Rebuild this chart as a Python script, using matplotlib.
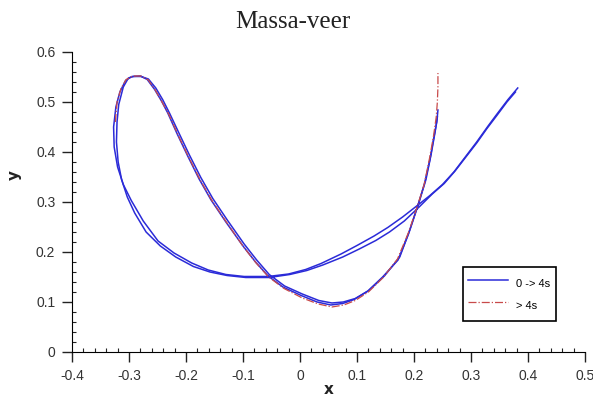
import numpy as np
import matplotlib.pyplot as plt
from matplotlib.ticker import MultipleLocator

# 0 -> 4s, first sweep (top right end -> loop -> peak -> valley -> right tip)
x_a = [0.382, 0.365, 0.345, 0.33, 0.31, 0.29, 0.27, 0.25, 0.228, 0.207, 0.18, 0.154,
       0.13, 0.10, 0.072, 0.037, 0.01, -0.02, -0.056, -0.098, -0.13, -0.161, -0.19,
       -0.221, -0.249, -0.275, -0.296, -0.31, -0.32, -0.326, -0.327, -0.323, -0.316,
       -0.306, -0.295, -0.28, -0.268, -0.255, -0.243, -0.232, -0.215, -0.197, -0.177,
       -0.156, -0.13, -0.10, -0.078, -0.056, -0.03, 0.002, 0.03, 0.054, 0.075, 0.095,
       0.119, 0.145, 0.172, 0.19, 0.207, 0.218, 0.228, 0.235, 0.24, 0.242]
y_a = [0.528, 0.505, 0.475, 0.452, 0.42, 0.39, 0.36, 0.335, 0.313, 0.294, 0.27, 0.249,
       0.232, 0.213, 0.196, 0.177, 0.165, 0.156, 0.151, 0.151, 0.155, 0.164, 0.178,
       0.198, 0.222, 0.262, 0.303, 0.335, 0.37, 0.41, 0.45, 0.49, 0.52,
       0.543, 0.551, 0.552, 0.545, 0.525, 0.502, 0.478, 0.435, 0.392, 0.346,
       0.304, 0.26, 0.212, 0.18, 0.152, 0.13, 0.113, 0.100, 0.094, 0.097, 0.105,
       0.122, 0.15, 0.184, 0.235, 0.294, 0.335, 0.385, 0.43, 0.46, 0.484]

# 0 -> 4s, return sweep
x_b = [0.241, 0.237, 0.23, 0.221, 0.209, 0.193, 0.175, 0.148, 0.121, 0.097, 0.076,
       0.056, 0.033, 0.004, -0.027, -0.054, -0.076, -0.098, -0.127, -0.153, -0.174,
       -0.194, -0.212, -0.229, -0.241, -0.253, -0.266, -0.279, -0.292, -0.301, -0.31,
       -0.318, -0.321, -0.322, -0.319, -0.313, -0.303, -0.29, -0.27, -0.245, -0.218,
       -0.187, -0.158, -0.128, -0.095, -0.054, -0.018, 0.012, 0.04, 0.075, 0.104,
       0.133, 0.157, 0.183, 0.209, 0.232, 0.253, 0.272, 0.291, 0.31, 0.328, 0.346,
       0.363, 0.378]
y_b = [0.47, 0.44, 0.395, 0.345, 0.3, 0.245, 0.19, 0.152, 0.123, 0.107, 0.1,
       0.098, 0.103, 0.116, 0.132, 0.155, 0.184, 0.216, 0.263, 0.307, 0.349,
       0.394, 0.437, 0.478, 0.505, 0.528, 0.546, 0.551, 0.551, 0.548, 0.53,
       0.495, 0.46, 0.42, 0.38, 0.345, 0.31, 0.278, 0.24, 0.212, 0.19,
       0.171, 0.16, 0.153, 0.149, 0.149, 0.155, 0.163, 0.174, 0.19, 0.206,
       0.223, 0.24, 0.262, 0.29, 0.316, 0.337, 0.362, 0.39, 0.418, 0.447, 0.474,
       0.5, 0.52]

# > 4s
x_c = [-0.324, -0.321, -0.314, -0.305, -0.293, -0.279, -0.266, -0.254, -0.242,
       -0.23, -0.213, -0.195, -0.175, -0.154, -0.128, -0.099, -0.077, -0.055,
       -0.028, 0.004, 0.032, 0.056, 0.077, 0.097, 0.12, 0.146, 0.171, 0.19, 0.206,
       0.218, 0.227, 0.234, 0.239, 0.241, 0.242, 0.242]
y_c = [0.46, 0.5, 0.527, 0.545, 0.552, 0.552, 0.544, 0.524, 0.5, 0.475, 0.432,
       0.389, 0.344, 0.302, 0.258, 0.21, 0.178, 0.15, 0.127, 0.108, 0.096, 0.09,
       0.094, 0.103, 0.12, 0.149, 0.186, 0.238, 0.292, 0.336, 0.386, 0.43, 0.47,
       0.5, 0.53, 0.558]

x_ticks = [-0.4, -0.3, -0.2, -0.1, 0, 0.1, 0.2, 0.3, 0.4, 0.5]
x_ticklabels = ['-0.4', '-0.3', '-0.2', '-0.1', '0', '0.1', '0.2', '0.3', '0.4', '0.5']
y_ticks = [0, 0.1, 0.2, 0.3, 0.4, 0.5, 0.6]
y_ticklabels = ['0', '0.1', '0.2', '0.3', '0.4', '0.5', '0.6']

blue = '#2b2bd8'
red = '#c84a4a'

fig = plt.figure(figsize=(5.93, 3.99), dpi=100)
ax = fig.add_axes([0.1214, 0.1178, 0.8651, 0.7519])

ax.plot(x_a, y_a, color=blue, lw=1.1, label='0 -> 4s')
ax.plot(x_b, y_b, color=blue, lw=1.1)
ax.plot(x_c, y_c, color=red, lw=0.9, ls='-.', label='> 4s')

ax.set_xlim(-0.4, 0.5)
ax.set_ylim(0, 0.6)
ax.set_xticks(x_ticks)
ax.set_xticklabels(x_ticklabels, fontfamily='Liberation Sans', fontsize=10, color='#333333')
ax.set_yticks(y_ticks)
ax.set_yticklabels(y_ticklabels, fontfamily='Liberation Sans', fontsize=10, color='#333333')
ax.xaxis.set_minor_locator(MultipleLocator(0.02))
ax.yaxis.set_minor_locator(MultipleLocator(0.02))

ax.tick_params(which='major', direction='out', length=7, width=1, pad=5, color='#222222')
ax.tick_params(which='minor', direction='in', length=3, width=0.8, color='#222222')
ax.spines['top'].set_visible(False)
ax.spines['right'].set_visible(False)

ax.set_xlabel('x', fontfamily='DejaVu Sans', fontsize=11, fontweight='bold',
              color='#222222', va='center')
ax.xaxis.set_label_coords(0.5, -0.125)
ax.set_ylabel('y', fontfamily='DejaVu Sans', fontsize=11, fontweight='bold', color='#222222')
ax.yaxis.set_label_coords(-0.097, 0.59)

fig.text(0.493, 0.945, 'Massa-veer', fontfamily='Liberation Serif', fontsize=18,
         ha='center', va='center', color='#222222')

leg = ax.legend(loc='lower left', bbox_to_anchor=(0.762, 0.103),
                prop={'family': 'Liberation Sans', 'size': 8},
                frameon=True, fancybox=False, edgecolor='black', framealpha=1,
                handlelength=3.6, handleheight=2.5, handletextpad=0.7, labelspacing=0.1,
                borderpad=0.5, borderaxespad=0)
leg.get_frame().set_linewidth(1.2)

plt.savefig('out.png', dpi=100)
